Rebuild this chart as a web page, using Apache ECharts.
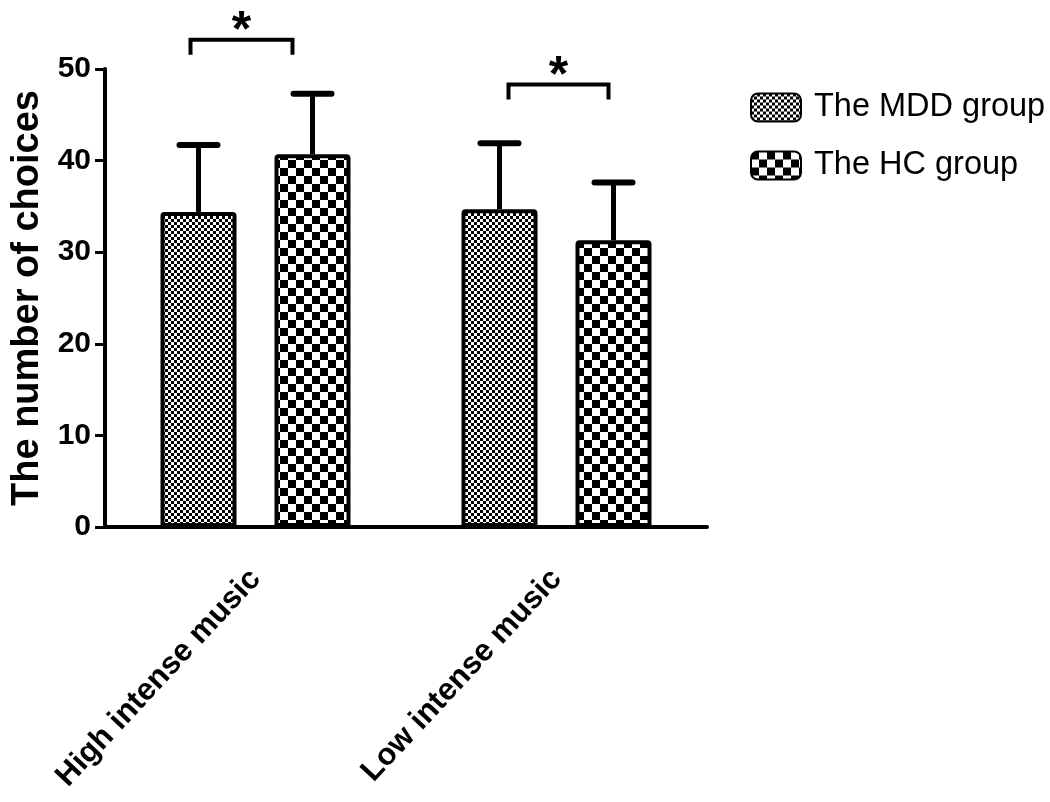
<!DOCTYPE html>
<html>
<head>
<meta charset="utf-8">
<script src="https://cdn.jsdelivr.net/npm/echarts@6/dist/echarts.min.js"></script>
<style>
html,body{margin:0;padding:0;background:#fff;}
#chart{width:1050px;height:802px;}
</style>
</head>
<body>
<div id="chart"></div>
<script>
// ---- data ----
const categories = ['High intense music', 'Low intense music'];
const seriesNames = ['The MDD group', 'The HC group'];
const mddMean = [34.4, 34.7];
const mddSD = [7.3, 7.2];
const hcMean = [40.7, 31.3];
const hcSD = [6.6, 6.3];
const yTicks = [0, 10, 20, 30, 40, 50];
const sigLevel = [53.2, 48.3];   // height of significance brackets (y units)
const sigLabel = ['*', '*'];

// ---- style ----
const FONT = 'Liberation Sans, Arial, sans-serif';
const BAR_W = 76, BAR_GAP = 38;
const BRACKET_SPAN = [[-65, 37], [-48, 52]]; // px offsets from category centre
function checker(cell) {
  const c = document.createElement('canvas');
  c.width = c.height = cell * 2;
  const ctx = c.getContext('2d');
  ctx.fillStyle = '#fff'; ctx.fillRect(0, 0, cell * 2, cell * 2);
  ctx.fillStyle = '#000';
  ctx.fillRect(0, 0, cell, cell); ctx.fillRect(cell, cell, cell, cell);
  return c;
}
const patMDD = { image: checker(3), repeat: 'repeat' };
const patHC = { image: checker(8), repeat: 'repeat' };

const chart = echarts.init(document.getElementById('chart'), null, { renderer: 'canvas' });

function errRender(offsetSign) {
  return function (params, api) {
    const cat = api.value(0);
    const c = api.coord([cat, api.value(1)]);
    const top = api.coord([cat, api.value(1) + api.value(2)]);
    const x = c[0] + offsetSign * (BAR_W + BAR_GAP) / 2;
    return {
      type: 'group',
      children: [
        { type: 'line', shape: { x1: x, y1: c[1], x2: x, y2: top[1] }, style: { stroke: '#000', lineWidth: 5 } },
        { type: 'line', shape: { x1: x - 19, y1: top[1], x2: x + 19, y2: top[1] }, style: { stroke: '#000', lineWidth: 6, lineCap: 'round' } }
      ]
    };
  };
}

const option = {
  animation: false,
  backgroundColor: '#fff',
  grid: { left: 105, right: 343, top: 69, bottom: 275 },
  legend: {
    orient: 'vertical', left: 745, top: 86,
    itemWidth: 50, itemHeight: 28, itemGap: 25,
    icon: 'roundRect',
    data: seriesNames,
    textStyle: { fontFamily: FONT, fontSize: 32.5, color: '#000', padding: [0, 0, 0, 8] }
  },
  xAxis: {
    type: 'category', data: categories,
    axisLine: { lineStyle: { color: '#000', width: 4 } },
    axisTick: { alignWithLabel: true, length: 14, lineStyle: { color: '#000', width: 3 } },
    axisLabel: { rotate: 47, margin: 47, color: '#000', fontFamily: FONT, fontWeight: 'bold', fontSize: 31 }
  },
  yAxis: {
    type: 'value', min: 0, max: 50, interval: 10,
    name: 'The number of choices', nameLocation: 'middle', nameGap: 57,
    nameTextStyle: { fontFamily: FONT, fontWeight: 'bold', fontSize: 38, color: '#000' },
    axisLine: { show: true, lineStyle: { color: '#000', width: 4 } },
    axisTick: { show: true, length: 10, lineStyle: { color: '#000', width: 3 } },
    splitLine: { show: false },
    axisLabel: { color: '#000', fontFamily: FONT, fontWeight: 'bold', fontSize: 30, margin: 14,
      formatter: v => yTicks.includes(v) ? String(v) : '' }
  },
  series: [
    { name: seriesNames[0], type: 'bar', data: mddMean, barWidth: BAR_W, barGap: (BAR_GAP / BAR_W * 100) + '%',
      itemStyle: { color: patMDD, borderColor: '#000', borderWidth: 4, borderRadius: [2, 2, 0, 0] }, z: 3 },
    { name: seriesNames[1], type: 'bar', data: hcMean, barWidth: BAR_W,
      itemStyle: { color: patHC, borderColor: '#000', borderWidth: 4, borderRadius: [2, 2, 0, 0] }, z: 3 },
    { type: 'custom', name: 'errMDD', data: categories.map((c, i) => [i, mddMean[i], mddSD[i]]),
      renderItem: errRender(-1), z: 2, silent: true, clip: false },
    { type: 'custom', name: 'errHC', data: categories.map((c, i) => [i, hcMean[i], hcSD[i]]),
      renderItem: errRender(1), z: 2, silent: true, clip: false },
    { type: 'custom', name: 'sig', data: sigLevel.map((v, i) => [i, v]), clip: false, silent: true, z: 5,
      renderItem: function (params, api) {
        const i = params.dataIndex;
        const p = api.coord([api.value(0), api.value(1)]);
        const xl = p[0] + BRACKET_SPAN[i][0], xr = p[0] + BRACKET_SPAN[i][1];
        const y = p[1], drop = 15;
        return {
          type: 'group',
          children: [
            { type: 'polyline', shape: { points: [[xl, y + drop], [xl, y], [xr, y], [xr, y + drop]] },
              style: { stroke: '#000', lineWidth: 4, fill: null } },
            { type: 'text', x: (xl + xr) / 2, y: y - 7,
              style: { text: sigLabel[i], fontFamily: FONT, fontWeight: 'bold', fontSize: 50, fill: '#000', align: 'center', verticalAlign: 'middle' } }
          ]
        };
      } }
  ]
};
chart.setOption(option);
</script>
</body>
</html>
